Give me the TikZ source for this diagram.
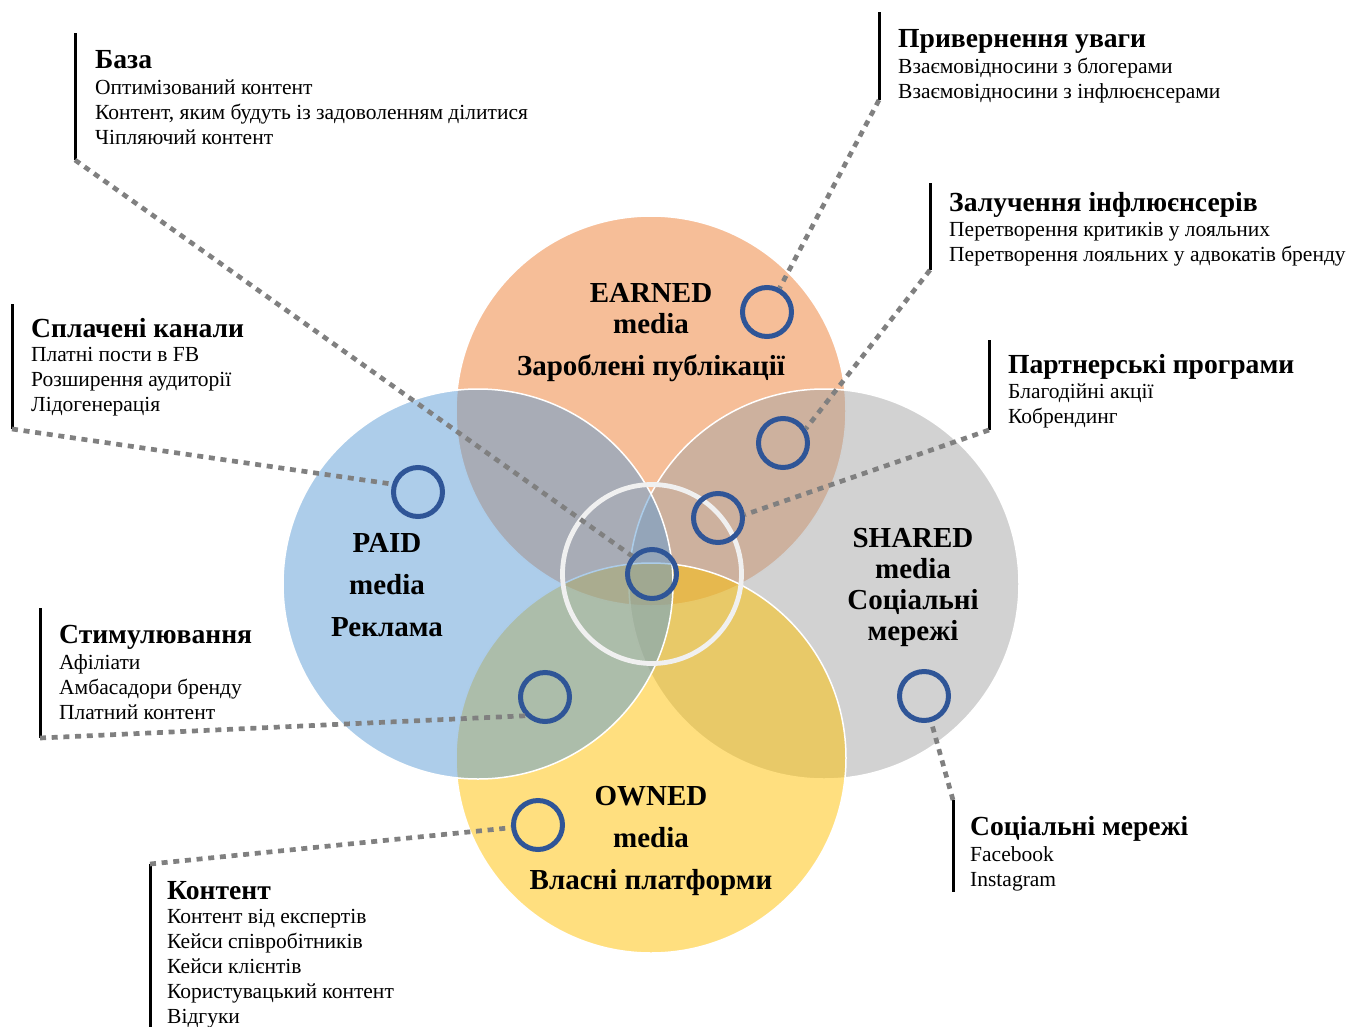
\documentclass[tikz,border=0pt]{standalone}
\usepackage{fontspec}
\setmainfont{Liberation Serif}
\definecolor{earnedc}{HTML}{ED7D31}
\definecolor{paidc}{HTML}{5B9BD5}
\definecolor{sharedc}{HTML}{A5A5A5}
\definecolor{ownedc}{HTML}{FFC000}
\definecolor{spotblue}{HTML}{2F5597}
\definecolor{ringgray}{HTML}{F0F0F0}
\definecolor{leadergray}{HTML}{808080}
\tikzset{
  venn/.style={circle, minimum size=390pt, inner sep=0pt, outer sep=0pt,
    fill opacity=0.5, draw=white, line width=1.5pt},
  spot/.style={circle, minimum size=49pt, inner sep=0pt, draw=spotblue, line width=5pt},
  ringc/.style={circle, minimum size=179pt, inner sep=0pt, draw=ringgray, line width=4.8pt},
  leader/.style={draw=leadergray, line width=4.7pt, dash pattern=on 6pt off 5.7pt},
  bar/.style={draw=black, line width=3pt},
  % single-line heading, placed by its baseline
  head/.style={anchor=base west, inner sep=0pt, font=\bfseries\fontsize{27.6}{30}\selectfont},
  % multi-line text, placed by the baseline of its last line
  body/.style={anchor=base west, inner sep=0pt, align=left, font=\fontsize{21.5}{24.8}\selectfont},
  biglabel/.style={anchor=base, inner sep=0pt, align=center, font=\bfseries\fontsize{29}{31}\selectfont},
}
\begin{document}
\begin{tikzpicture}[x=1pt, y=-1pt]
\useasboundingbox (0,0) rectangle (1363,1026);

% Venn circles (drawing order sets the colours of the overlaps)
\node[venn, fill=earnedc] (earned) at (651,411) {};
\node[venn, fill=sharedc] (shared) at (824,584) {};
\node[venn, fill=ownedc]  (owned)  at (651,758) {};
\node[venn, fill=paidc]   (paid)   at (478,584) {};

% central ring
\node[ringc] (core) at (652,574) {};

% circle titles
\node[biglabel] (earned-t) at (651,375) {EARNED\\ media\\[11pt] Зароблені публікації};
\node[biglabel] (paid-t)   at (387,636) {PAID\\[11pt] media\\[11pt] Реклама};
\node[biglabel] (shared-t) at (913,640) {SHARED\\ media\\ Соціальні\\ мережі};
\node[biglabel] (owned-t)  at (651,889) {OWNED\\[11pt] media\\[11pt] Власні платформи};

% blue markers
\node[spot] (c1) at (767,312) {};
\node[spot] (c2) at (783,443) {};
\node[spot] (c3) at (718,518) {};
\node[spot] (c4) at (652,574) {};
\node[spot] (c5) at (418,492) {};
\node[spot] (c6) at (545,697) {};
\node[spot] (c7) at (538,825) {};
\node[spot] (c8) at (924,696) {};

% callout bars
\coordinate (baza-top) at (75,33);   \coordinate (baza-bot) at (75,160);
\coordinate (prv-top) at (879,12);   \coordinate (prv-bot) at (879,100);
\coordinate (zal-top) at (930,183);  \coordinate (zal-bot) at (930,270);
\coordinate (par-top) at (989,340);  \coordinate (par-bot) at (989,430);
\coordinate (spl-top) at (12,304);   \coordinate (spl-bot) at (12,429);
\coordinate (stm-top) at (40,608);   \coordinate (stm-bot) at (40,738);
\coordinate (kon-top) at (150,864);  \coordinate (kon-bot) at (150,1030);
\coordinate (soc-top) at (953,800);  \coordinate (soc-bot) at (953,892);
\foreach \b in {baza,prv,zal,par,spl,stm,kon,soc}
  \draw[bar] (\b-top) -- (\b-bot);

% leaders
\draw[leader] (baza-bot) -- (c4.138);
\draw[leader] (prv-bot) -- (c1);
\draw[leader] (zal-bot) -- (c2.32);
\draw[leader] (par-bot) -- (c3.7);
\draw[leader] (spl-bot) -- (c5.163);
\draw[leader] (stm-bot) -- (c6.224);
\draw[leader] (kon-top) -- (c7);
\draw[leader] (soc-top) -- (c8);

% callout texts
\node[head] (baza-h) at (95,68) {База};
\node[body] (baza-b) at (95,144) {Оптимізований контент\\ Контент, яким будуть із задоволенням ділитися\\ Чіпляючий контент};

\node[head] (prv-h) at (898,47) {Привернення уваги};
\node[body] (prv-b) at (898,98) {Взаємовідносини з блогерами\\ Взаємовідносини з інфлюєнсерами};

\node[head] (zal-h) at (949,211) {Залучення інфлюєнсерів};
\node[body] (zal-b) at (949,261) {Перетворення критиків у лояльних\\ Перетворення лояльних у адвокатів бренду};

\node[head] (par-h) at (1008,373) {Партнерські програми};
\node[body] (par-b) at (1008,423) {Благодійні акції\\ Кобрендинг};

\node[head] (spl-h) at (31,337) {Сплачені канали};
\node[body] (spl-b) at (31,411) {Платні пости в FB\\ Розширення аудиторії\\ Лідогенерація};

\node[head] (stm-h) at (59,643) {Стимулювання};
\node[body] (stm-b) at (59,719) {Афіліати\\ Амбасадори бренду\\ Платний контент};

\node[head] (kon-h) at (167,899) {Контент};
\node[body] (kon-b) at (167,1023) {Контент від експертів\\ Кейси співробітників\\ Кейси клієнтів\\ Користувацький контент\\ Відгуки};

\node[head] (soc-h) at (970,835) {Соціальні мережі};
\node[body] (soc-b) at (970,886) {Facebook\\ Instagram};
\end{tikzpicture}
\end{document}
